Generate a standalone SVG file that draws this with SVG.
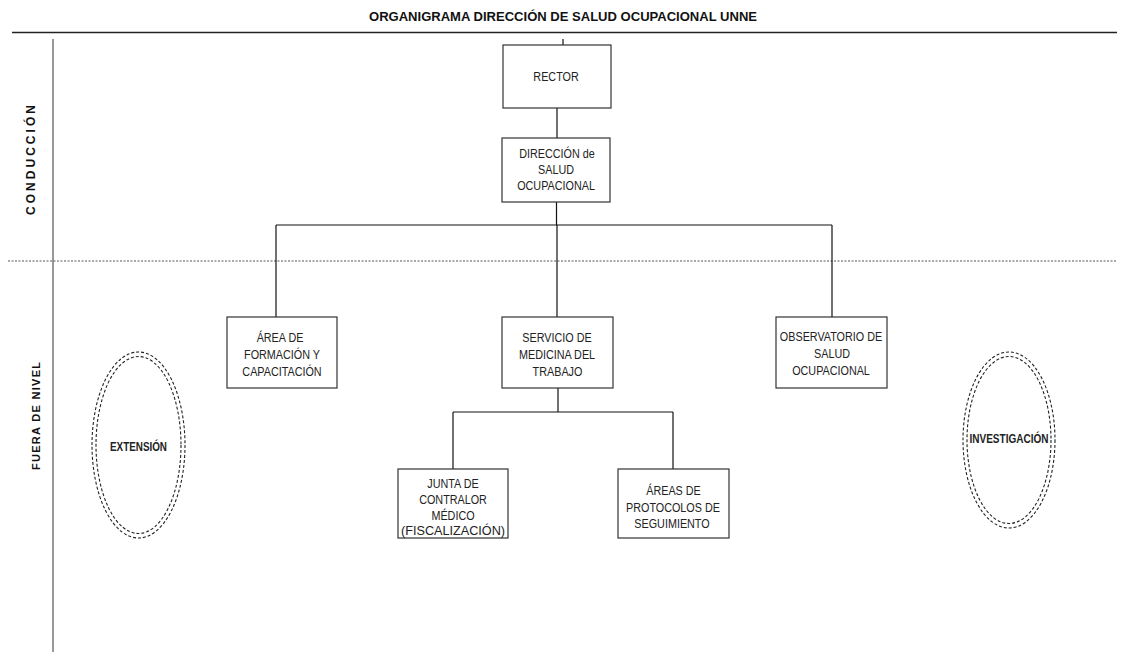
<svg xmlns="http://www.w3.org/2000/svg" width="1127" height="652" viewBox="0 0 1127 652">
<style>
  .box { fill: #fff; stroke: #333; stroke-width: 1.2; }
  .t { font-family: "Liberation Sans", Arial, sans-serif; font-size: 13px; fill: #222; text-anchor: middle; transform-box: fill-box; transform-origin: center; transform: scaleX(0.83); }
  .tf { font-family: "Liberation Sans", Arial, sans-serif; font-size: 13px; fill: #222; text-anchor: middle; }
  .title { font-family: "Liberation Sans", Arial, sans-serif; font-size: 13.5px; font-weight: bold; fill: #111; text-anchor: middle; }
  .side { font-family: "Liberation Sans", Arial, sans-serif; font-weight: bold; fill: #111; text-anchor: middle; }
  .ell { fill: none; stroke: #222; stroke-width: 1.1; stroke-dasharray: 3 2; }
  .et { font-family: "Liberation Sans", Arial, sans-serif; font-size: 12.5px; font-weight: bold; fill: #222; text-anchor: middle; }
  .c { stroke: #111; stroke-width: 1.2; fill: none; }
</style>
<rect width="1127" height="652" fill="#fff"/>
<text class="title" x="563" y="21" textLength="388" lengthAdjust="spacingAndGlyphs">ORGANIGRAMA DIRECCIÓN  DE SALUD OCUPACIONAL UNNE</text>
<line x1="12" y1="32.5" x2="1117" y2="32.5" stroke="#222" stroke-width="1.3"/>
<line x1="53" y1="39" x2="53" y2="652" stroke="#777" stroke-width="1.5"/>
<line x1="8" y1="261" x2="1117" y2="261" stroke="#555" stroke-width="1.2" stroke-dasharray="2 1.5"/>
<text class="side" font-size="12" transform="translate(35,160) rotate(-90)" textLength="110" lengthAdjust="spacing">CONDUCCIÓN</text>
<text class="side" font-size="11" transform="translate(40,416) rotate(-90)" textLength="108" lengthAdjust="spacing">FUERA DE NIVEL</text>
<g id="connectors">
  <line class="c" x1="563" y1="39" x2="563" y2="45"/>
  <line class="c" x1="557" y1="108" x2="557" y2="138"/>
  <line class="c" x1="556.5" y1="202" x2="556.5" y2="225" stroke-width="2"/>
  <line class="c" x1="276" y1="225" x2="832" y2="225"/>
  <line class="c" x1="276" y1="225" x2="276" y2="317"/>
  <line class="c" x1="557" y1="225" x2="557" y2="317"/>
  <line class="c" x1="832" y1="225" x2="832" y2="317"/>
  <line class="c" x1="558" y1="388" x2="558" y2="412"/>
  <line class="c" x1="453" y1="412" x2="673" y2="412"/>
  <line class="c" x1="453" y1="412" x2="453" y2="469"/>
  <line class="c" x1="673" y1="412" x2="673" y2="469"/>
</g>
<g id="rector">
  <rect class="box" x="503" y="45" width="108" height="63"/>
  <text class="t" x="556" y="81">RECTOR</text>
</g>
<g id="direccion">
  <rect class="box" x="502" y="138" width="108" height="64"/>
  <text class="t" x="557" y="158">DIRECCIÓN de</text>
  <text class="t" x="556" y="174">SALUD</text>
  <text class="t" x="556" y="190">OCUPACIONAL</text>
</g>
<g id="area-formacion">
  <rect class="box" x="227" y="317" width="110" height="71"/>
  <text class="t" x="280" y="342">ÁREA DE</text>
  <text class="t" x="282" y="359">FORMACIÓN Y</text>
  <text class="t" x="282" y="376">CAPACITACIÓN</text>
</g>
<g id="servicio">
  <rect class="box" x="502" y="317" width="111" height="71"/>
  <text class="t" x="557" y="342">SERVICIO DE</text>
  <text class="t" x="557" y="359">MEDICINA DEL</text>
  <text class="t" x="557.5" y="376">TRABAJO</text>
</g>
<g id="observatorio">
  <rect class="box" x="776" y="317" width="111" height="71"/>
  <text class="t" x="831" y="341">OBSERVATORIO DE</text>
  <text class="t" x="832" y="358">SALUD</text>
  <text class="t" x="831" y="375">OCUPACIONAL</text>
</g>
<g id="junta">
  <rect class="box" x="398" y="469" width="110" height="69"/>
  <text class="t" x="453" y="488">JUNTA DE</text>
  <text class="t" x="453" y="504">CONTRALOR</text>
  <text class="t" x="453" y="520">MÉDICO</text>
  <text class="tf" x="453" y="535" textLength="104" lengthAdjust="spacingAndGlyphs">(FISCALIZACIÓN)</text>
</g>
<g id="areas-protocolos">
  <rect class="box" x="618" y="469" width="111" height="69"/>
  <text class="t" x="673.5" y="495">ÁREAS DE</text>
  <text class="t" x="673" y="512">PROTOCOLOS DE</text>
  <text class="t" x="672" y="528">SEGUIMIENTO</text>
</g>
<g id="extension">
  <ellipse class="ell" cx="138.5" cy="445" rx="46.5" ry="93"/>
  <ellipse class="ell" cx="138.5" cy="445" rx="42.5" ry="88.5"/>
  <text class="et" x="138.5" y="451" textLength="57" lengthAdjust="spacingAndGlyphs">EXTENSIÓN</text>
</g>
<g id="investigacion">
  <ellipse class="ell" cx="1009" cy="440" rx="46" ry="88"/>
  <ellipse class="ell" cx="1009" cy="440" rx="42" ry="83.5"/>
  <text class="et" x="1009" y="443" textLength="79" lengthAdjust="spacingAndGlyphs">INVESTIGACIÓN</text>
</g>
</svg>
